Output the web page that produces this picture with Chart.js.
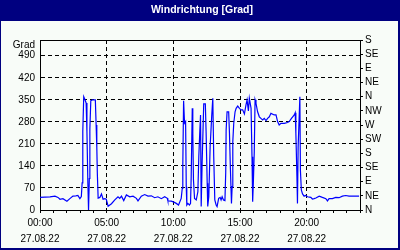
<!DOCTYPE html>
<html>
<head>
<meta charset="utf-8">
<script src="https://cdn.jsdelivr.net/npm/chart.js@4"></script>
<style>
  body { margin: 0; background: #fff; }
  canvas { display: block; }
</style>
</head>
<body>
<canvas id="chart" width="400" height="250"></canvas>
<script>
// wind direction, 27.08.22 (hours since midnight / degrees)
const hours = [
  0.00, 0.37, 0.75, 1.12, 1.35, 1.50, 1.72, 2.02, 2.24, 2.47, 2.69, 2.84, 2.99, 3.10,
  3.16, 3.21, 3.28, 3.36, 3.46, 3.52, 3.59, 3.64, 3.70, 3.74, 3.81, 3.96, 4.15, 4.21, 4.26, 4.30, 4.36,
  4.49, 4.61, 4.73, 4.86, 4.97, 5.11, 5.36, 5.61, 5.85, 5.98, 6.11, 6.28, 6.48, 6.73, 6.98, 7.23,
  7.35, 7.60, 7.85, 8.10, 8.35, 8.60, 8.84, 9.10, 9.35, 9.55, 9.59, 9.85, 10.04, 10.22, 10.39, 10.59,
  10.67, 10.71, 10.77, 10.84, 10.92, 10.97, 11.01, 11.09, 11.21, 11.29, 11.34, 11.42, 11.46, 11.51,
  11.59, 11.72, 11.84, 11.91, 11.99, 12.04, 12.09, 12.16, 12.28, 12.40, 12.46, 12.54, 12.58, 12.66,
  12.76, 12.88, 12.96, 13.03, 13.11, 13.21, 13.28, 13.40, 13.51, 13.58, 13.66, 13.76, 13.87, 13.93,
  13.96, 14.03, 14.15, 14.21, 14.28, 14.36, 14.41, 14.46, 14.53, 14.63, 14.71, 14.83, 14.96, 15.08,
  15.20, 15.33, 15.45, 15.53, 15.63, 15.70, 15.83, 15.90, 15.95, 16.00, 16.07, 16.13, 16.20, 16.32,
  16.45, 16.57, 16.70, 16.82, 16.95, 17.07, 17.20, 17.32, 17.57, 17.70, 17.82, 17.94, 18.07, 18.32,
  18.56, 18.69, 18.86, 19.07, 19.14, 19.19, 19.27, 19.31, 19.36, 19.49, 19.53, 19.60, 19.69, 19.81,
  19.93, 20.06, 20.31, 20.43, 20.56, 20.69, 20.94, 21.18, 21.44, 21.56, 21.68, 21.93, 22.18, 22.43,
  22.68, 22.93, 23.18, 23.43, 23.68, 23.93
];
const degrees = [
  40, 41, 42, 44, 40, 34, 36, 28, 36, 44, 45, 46, 36, 43,
  86, 250, 360, 352, 340, 249, 86, 0, 100, 257, 347, 350, 350, 270, 200, 117, 38,
  40, 51, 34, 36, 34, 12, 20, 32, 42, 37, 44, 30, 48, 42, 44, 37,
  29, 44, 49, 44, 45, 39, 42, 36, 42, 37, 29, 28, 25, 21, 16, 37,
  69, 138, 347, 276, 281, 74, 16, 21, 16, 21, 106, 323, 244, 95,
  37, 32, 58, 169, 254, 302, 11, 150, 337, 337, 244, 85, 11, 42,
  200, 300, 355, 169, 32, 16, 11, 37, 40, 32, 42, 32, 30, 120,
  254, 312, 312, 244, 132, 21, 74, 217, 275, 312, 323, 330, 323, 318,
  318, 305, 334, 350, 315, 355, 323, 169, 26, 85, 185, 350, 339, 312,
  296, 291, 286, 291, 284, 291, 296, 307, 302, 302, 281, 270, 275, 275,
  278, 281, 291, 302, 309, 244, 106, 21, 200, 360, 127, 64, 51, 44,
  46, 42, 40, 35, 36, 38, 44, 40, 36, 29, 36, 36, 40, 39,
  44, 46, 44, 44, 44, 44
];

const timeTicks = [0, 5, 10, 15, 20];
const timeLabels = ['00:00', '05:00', '10:00', '15:00', '20:00'];
const dateLabel = '27.08.22';
const compassLabels = ['N', 'NE', 'E', 'SE', 'S', 'SW', 'W', 'NW', 'N', 'NE', 'E', 'SE', 'S'];

const NAVY = '#000080';
const BG = '#f8fcf8';

Chart.defaults.font.family = '"Liberation Sans", Arial, sans-serif';
Chart.defaults.font.size = 10;
Chart.defaults.color = '#000';

// frame, title bar, top border line and "Grad" caption
const framePlugin = {
    id: 'frame',
    beforeDraw(chart) {
        const ctx = chart.ctx;
        ctx.save();
        ctx.fillStyle = NAVY;
        ctx.fillRect(0, 0, 400, 250);
        ctx.fillStyle = BG;
        ctx.fillRect(1, 21, 397, 227);
        ctx.fillStyle = '#fff';
        ctx.font = 'bold 10.5px "Liberation Sans", Arial, sans-serif';
        ctx.textAlign = 'center';
        ctx.textBaseline = 'middle';
        ctx.fillText('Windrichtung [Grad]', 202, 10);
        ctx.restore();
    },
    afterDraw(chart) {
        const {ctx, chartArea} = chart;
        ctx.save();
        ctx.strokeStyle = '#000';
        ctx.lineWidth = 1;
        ctx.beginPath();
        ctx.moveTo(chartArea.left, chartArea.top + 0.5);
        ctx.lineTo(chartArea.right + 1, chartArea.top + 0.5);
        ctx.stroke();
        ctx.fillStyle = '#000';
        ctx.font = '10px "Liberation Sans", Arial, sans-serif';
        ctx.textAlign = 'right';
        ctx.textBaseline = 'middle';
        ctx.fillText('Grad', 35, 45);
        ctx.restore();
    }
};

new Chart(document.getElementById('chart'), {
    type: 'line',
    data: {
        datasets: [{
            data: hours.map((h, i) => ({x: h, y: degrees[i]})),
            borderColor: '#0000ff',
            borderWidth: 1.2,
            pointRadius: 0,
            tension: 0,
            yAxisID: 'y'
        }]
    },
    options: {
        responsive: false,
        animation: false,
        devicePixelRatio: 1,
        layout: { padding: { top: 40, left: 0, right: 0, bottom: 0 } },
        plugins: {
            legend: { display: false },
            tooltip: { enabled: false }
        },
        scales: {
            x: {
                type: 'linear',
                min: 0,
                max: 24,
                afterFit: s => { s.height = 40; },
                grid: {
                    color: c => (c.tick && c.tick.value > 0 && c.tick.value < 24 && c.tick.value % 5 === 0) ? '#000' : 'rgba(0,0,0,0)',
                    tickColor: '#000',
                    tickLength: 3
                },
                border: { color: '#000', dash: [4, 3] },
                ticks: {
                    stepSize: 1,
                    autoSkip: false,
                    maxRotation: 0,
                    padding: 2,
                    font: { size: 10, lineHeight: '16px' },
                    callback: v => {
                        const i = timeTicks.indexOf(v);
                        return i >= 0 ? [timeLabels[i], dateLabel] : '';
                    }
                }
            },
            y: {
                position: 'left',
                min: 0,
                max: 540,
                afterFit: s => { s.width = 40; },
                grid: { color: '#000', drawTicks: false },
                border: { color: '#000', dash: [4, 3] },
                ticks: { stepSize: 70, includeBounds: false, padding: 5 }
            },
            y2: {
                position: 'right',
                min: 0,
                max: 540,
                afterFit: s => { s.width = 40; },
                grid: { drawOnChartArea: false, color: '#000', tickLength: 3 },
                border: { color: '#000' },
                ticks: {
                    stepSize: 45,
                    autoSkip: false,
                    padding: 2,
                    callback: v => compassLabels[Math.round(v / 45)]
                }
            }
        }
    },
    plugins: [framePlugin]
});
</script>
</body>
</html>
